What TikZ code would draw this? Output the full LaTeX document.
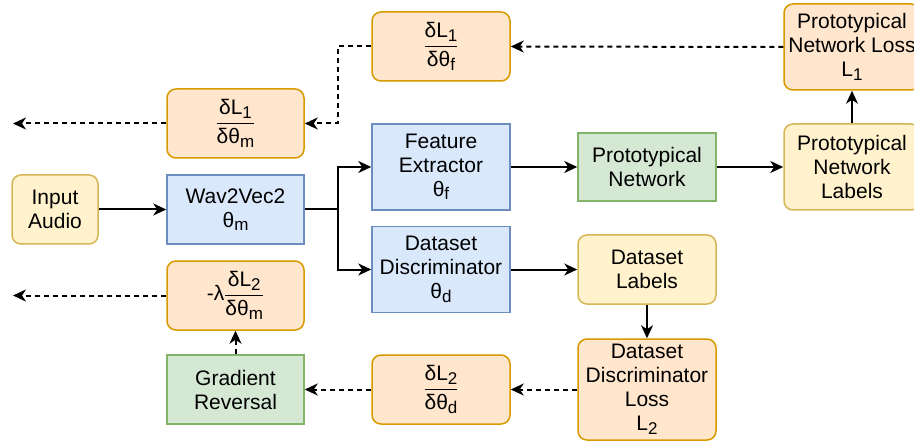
\documentclass[tikz,border=0pt]{standalone}
\usepackage{fontspec}
\setmainfont{Liberation Sans}
\usetikzlibrary{arrows.meta}
\definecolor{orFill}{HTML}{FFE6CC}
\definecolor{orLine}{HTML}{D79B00}
\definecolor{yeFill}{HTML}{FFF2CC}
\definecolor{yeLine}{HTML}{D6B656}
\definecolor{blFill}{HTML}{DAE8FC}
\definecolor{blLine}{HTML}{6C8EBF}
\definecolor{grFill}{HTML}{D5E8D4}
\definecolor{grLine}{HTML}{82B366}
\newcommand{\lsub}[1]{\raisebox{-3.5pt}{\fontsize{17}{17}\selectfont #1}}
\newcommand{\myfr}[2]{$\displaystyle{\hbox{#1}\above 1.4pt\hbox{#2}}$}
\tikzset{
  box/.style={line width=1.5pt, inner sep=0pt, align=center,
    font=\fontsize{21}{24}\selectfont},
  orbox/.style={box, draw=orLine, fill=orFill, rounded corners=9pt},
  yebox/.style={box, draw=yeLine, fill=yeFill, rounded corners=9pt},
  blbox/.style={box, draw=blLine, fill=blFill},
  grbox/.style={box, draw=grLine, fill=grFill},
  sz/.style 2 args={minimum width=#1pt, minimum height=#2pt},
  conn/.style={line width=2pt, -{Stealth[length=13pt,width=12pt,inset=4pt]}},
  dconn/.style={conn, dash pattern=on 5pt off 4pt}
}
\begin{document}
\begin{tikzpicture}[x=1pt,y=-1pt]
\clip (0,0) rectangle (914,441);
\useasboundingbox (0,0) rectangle (914,441);
\fill[white] (0,0) rectangle (914,441);

\node[yebox, sz={86}{69}] (inp) at (55,209.5) {Input\\Audio};
\node[blbox, sz={137}{69}] (w2v) at (235.5,209.5) {Wav2Vec2\\θ\lsub{m}};
\node[orbox, sz={137}{69}] (gm1) at (235.5,123.5) {\myfr{δL\lsub{1}}{δθ\lsub{m}}};
\node[orbox, sz={138}{69}] (gf1) at (441,46.5) {\myfr{δL\lsub{1}}{δθ\lsub{f}}};
\node[blbox, sz={138}{86}] (fe) at (441,167) {Feature\\Extractor\\θ\lsub{f}};
\node[grbox, sz={138}{68}] (pn) at (647,167) {Prototypical\\Network};
\node[orbox, sz={136}{86}] (pnl) at (852,47) {Prototypical\\Network Loss\\L\lsub{1}};
\node[yebox, sz={136}{86}] (pnlab) at (852,167) {Prototypical\\Network\\Labels};
\node[blbox, sz={138}{86}] (dd) at (441,269.5) {Dataset\\Discriminator\\θ\lsub{d}};
\node[yebox, sz={138}{69}] (dl) at (647,269.5) {Dataset\\Labels};
\node[orbox, sz={138}{101}] (ddl) at (647,389.5) {Dataset\\Discriminator\\Loss\\L\lsub{2}};
\node[orbox, sz={138}{69}] (gd2) at (441,389.5) {\myfr{δL\lsub{2}}{δθ\lsub{d}}};
\node[grbox, sz={137}{69}] (gr) at (235.5,389.5) {Gradient\\Reversal};
\node[orbox, sz={137}{69}] (gm2) at (235.5,295.5) {-λ\myfr{δL\lsub{2}}{δθ\lsub{m}}};

\coordinate (left1) at (13,123.5);
\coordinate (left2) at (13,295.5);
\coordinate (br) at (338,209.5);
\coordinate (bend1) at (338,46.5);

\draw[conn] (inp.east) -- (w2v.west);
\draw[line width=2pt] (w2v.east) -- (br);
\draw[conn] (br) |- (fe.west);
\draw[conn] (br) |- (dd.west);
\draw[conn] (fe.east) -- (pn.west);
\draw[conn] (pn.east) -- (pnlab.west);
\draw[conn] (pnlab.north) -- (pnl.south);
\draw[dconn] (pnl.west) -- (gf1.east);
\draw[dconn] (gf1.west) -- (bend1) |- (gm1.east);
\draw[dconn] (gm1.west) -- (left1);
\draw[conn] (dd.east) -- (dl.west);
\draw[conn] (dl.south) -- (ddl.north);
\draw[dconn] (ddl.west) -- (gd2.east);
\draw[dconn] (gd2.west) -- (gr.east);
\draw[dconn] (gr.north) -- (gm2.south);
\draw[dconn] (gm2.west) -- (left2);
\end{tikzpicture}
\end{document}
